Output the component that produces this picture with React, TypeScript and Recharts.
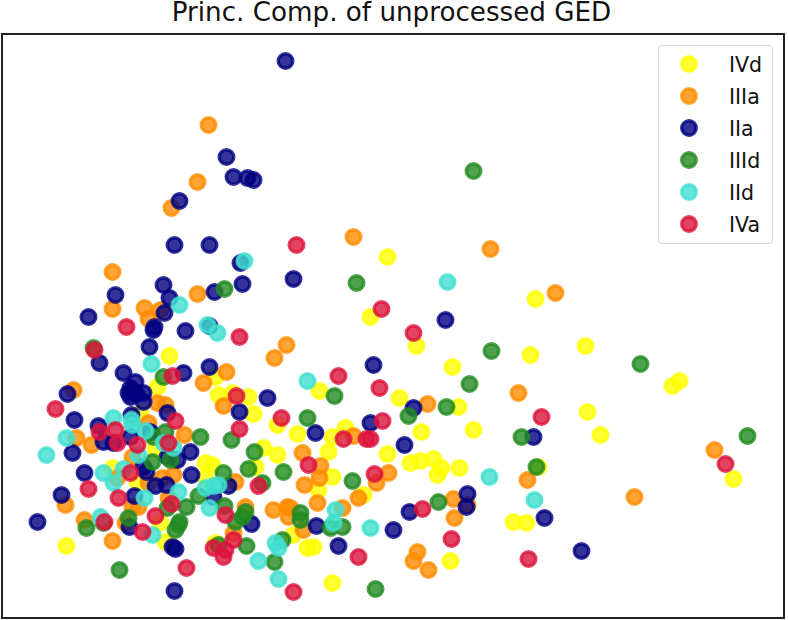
import React from "react";
import { ScatterChart, Scatter, XAxis, YAxis, Legend, ReferenceArea } from "recharts";

const title = "Princ. Comp. of unprocessed GED";

const IVd: number[][] = [[387,257],[535,299],[370,317],[416,346],[530,355],[585,346],[452,367],[679,381],[672,386],[319,391],[399,398],[458,407],[587,412],[600,435],[473,430],[421,432],[297,434],[345,428],[332,437],[328,452],[387,454],[410,463],[420,461],[433,459],[441,468],[437,475],[459,468],[538,467],[733,479],[513,522],[526,523],[450,561],[332,583],[66,546],[307,548],[313,547],[169,356],[218,395],[232,393],[248,397],[253,414],[277,425],[277,455],[263,448],[205,463],[212,465],[205,478],[255,467],[318,490],[332,477],[363,495],[293,535],[215,543],[215,377],[157,387],[140,413],[155,448],[112,468],[137,482],[160,523],[165,542]];
const IIIa: number[][] = [[208,125],[197,182],[171,208],[353,237],[490,249],[112,272],[197,294],[555,293],[112,309],[144,308],[148,319],[160,310],[286,345],[274,358],[226,372],[203,383],[73,390],[157,403],[165,405],[76,438],[91,445],[148,423],[184,435],[132,457],[173,475],[162,478],[148,483],[117,478],[65,505],[84,520],[112,541],[125,523],[132,507],[138,507],[168,498],[223,406],[235,482],[245,507],[233,533],[273,510],[287,507],[290,508],[288,517],[302,453],[320,466],[319,478],[304,485],[317,503],[303,530],[353,436],[358,498],[342,508],[376,483],[388,473],[427,404],[518,393],[527,480],[453,499],[467,505],[454,518],[417,552],[413,561],[428,570],[634,497],[714,450]];
const IIa: number[][] = [[285,61],[226,157],[233,177],[247,178],[253,180],[179,201],[174,245],[209,245],[240,263],[293,279],[242,284],[214,292],[163,285],[115,295],[169,298],[88,317],[164,313],[154,327],[153,330],[185,331],[209,326],[149,347],[99,363],[123,373],[183,373],[209,367],[135,382],[130,388],[143,393],[130,397],[143,402],[128,393],[133,391],[136,394],[67,394],[74,420],[131,415],[167,413],[98,426],[103,442],[113,443],[130,437],[150,432],[72,453],[190,452],[167,457],[177,460],[143,467],[146,472],[84,473],[191,475],[155,486],[166,485],[134,496],[61,495],[37,522],[129,527],[172,547],[175,549],[174,591],[267,398],[239,412],[315,433],[373,365],[370,423],[228,486],[213,497],[251,524],[316,526],[338,546],[393,530],[445,320],[413,408],[404,445],[533,437],[467,494],[466,507],[409,512],[544,518],[581,551]];
const IIId: number[][] = [[473,171],[356,283],[491,351],[640,364],[469,384],[747,436],[408,416],[446,407],[521,437],[536,467],[438,502],[375,589],[119,570],[334,396],[224,289],[93,348],[307,418],[231,440],[200,437],[163,377],[165,432],[153,437],[152,462],[170,460],[186,507],[167,508],[128,518],[103,523],[86,528],[178,525],[175,530],[179,522],[254,452],[248,469],[283,472],[352,481],[223,473],[262,483],[198,496],[224,506],[245,512],[242,517],[235,522],[300,513],[300,520],[330,528],[342,527],[282,540],[218,545],[246,546],[274,562]];
const IId: number[][] = [[244,261],[447,282],[179,305],[207,325],[217,333],[151,364],[307,381],[489,477],[534,500],[370,528],[113,418],[131,420],[132,425],[145,431],[66,438],[46,455],[138,455],[173,448],[163,443],[103,473],[113,483],[123,469],[144,498],[178,492],[100,517],[152,535],[205,488],[218,485],[213,486],[209,508],[275,543],[278,548],[335,510],[333,523],[258,561],[278,579]];
const IVa: number[][] = [[296,245],[381,309],[413,333],[126,327],[239,337],[94,350],[172,376],[55,409],[175,421],[99,432],[115,430],[117,443],[137,445],[168,443],[130,473],[88,489],[118,498],[171,504],[155,516],[104,522],[142,532],[186,568],[338,376],[379,388],[236,396],[281,418],[239,429],[343,439],[366,439],[370,439],[382,421],[308,465],[374,474],[258,486],[225,515],[233,540],[213,548],[225,550],[223,557],[358,557],[293,592],[541,417],[725,464],[422,509],[451,539],[528,559]];

const seriesNames = ["IVd", "IIIa", "IIa", "IIId", "IId", "IVa"];
const seriesColors = ["#ffff00", "#ff8c00", "#000080", "#228b22", "#40e0d0", "#dc143c"];
const seriesPoints = [IVd, IIIa, IIa, IIId, IId, IVa];

const toRows = (pts: number[][]) => pts.map(([x, y]) => ({ x, y }));

const FONT = '"DejaVu Sans", sans-serif';

function Dot(props: any) {
  const { cx, cy, fill } = props;
  if (cx == null || cy == null) return null;
  return <circle cx={cx} cy={cy} r={7.3} fill={fill} fillOpacity={0.8} stroke={fill} strokeOpacity={0.8} strokeWidth={3.4} />;
}

function LegendBox() {
  return (
    <div
      style={{
        width: 115,
        height: 199,
        boxSizing: "border-box",
        border: "1.5px solid rgba(204,204,204,0.8)",
        borderRadius: 4,
        background: "rgba(255,255,255,0.8)",
        position: "relative",
        fontFamily: FONT,
        fontSize: 20.5,
        color: "#111",
      }}
    >
      {seriesNames.map((name, i) => (
        <div key={name} style={{ position: "absolute", left: 0, top: 3 + i * 32, height: 30, width: 113, lineHeight: "30px" }}>
          <svg width={60} height={30} style={{ position: "absolute", left: 0, top: 0 }}>
            <Dot cx={30} cy={15} fill={seriesColors[i]} />
          </svg>
          <span style={{ position: "absolute", left: 70, top: 1 }}>{name}</span>
        </div>
      ))}
    </div>
  );
}

export default function App() {
  return (
    <div style={{ position: "absolute", left: 0, top: 0, width: 788, height: 620, background: "#fff" }}>
      <div
        style={{
          position: "absolute",
          left: 0,
          top: 0,
          width: 783,
          textAlign: "center",
          fontFamily: FONT,
          fontSize: 26.2,
          lineHeight: "25px",
          color: "#111",
          whiteSpace: "nowrap",
        }}
      >
        {title}
      </div>
      <ScatterChart width={788} height={620} margin={{ top: 34, right: 4, bottom: 2, left: 2 }}>
        <XAxis type="number" dataKey="x" domain={[1.5, 783.5]} hide />
        <YAxis type="number" dataKey="y" domain={[34, 618]} reversed hide />
        <ReferenceArea x1={1.5} x2={783.5} y1={34} y2={618} fill="none" stroke="#222" strokeWidth={2} />
        {seriesPoints.map((pts, i) => (
          <Scatter
            key={seriesNames[i]}
            name={seriesNames[i]}
            data={toRows(pts)}
            fill={seriesColors[i]}
            shape={Dot}
            isAnimationActive={false}
          />
        ))}
        <Legend
          layout="horizontal"
          align="center"
          verticalAlign="middle"
          content={() => <LegendBox />}
          wrapperStyle={{ position: "absolute", left: 658, top: 45, width: 115, height: 199 }}
        />
      </ScatterChart>
    </div>
  );
}
